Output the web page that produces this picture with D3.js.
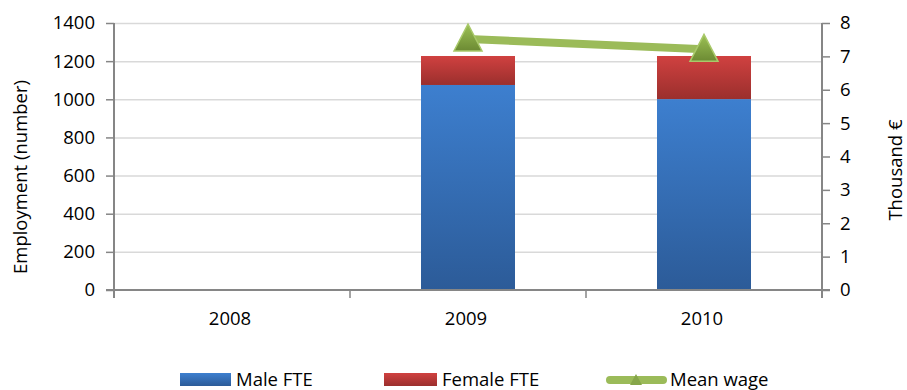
<!DOCTYPE html>
<html><head><meta charset="utf-8">
<script src="https://cdn.jsdelivr.net/npm/d3@7/dist/d3.min.js"></script>
<style>body{margin:0;background:#fff}svg{font-family:"Open Sans","Liberation Sans",Arial,sans-serif}</style>
</head><body><svg id="c" width="907" height="390"></svg>
<script>
const years = ["2008","2009","2010"];
const maleFTE = [null, 1075, 1001];
const femaleFTE = [null, 152, 226];
const meanWage = [null, 7.52, 7.21];
const leftTicks = [0,200,400,600,800,1000,1200,1400];
const rightTicks = [0,1,2,3,4,5,6,7,8];
const seriesNames = ["Male FTE","Female FTE","Mean wage"];

const svg = d3.select("#c");
const L = 114, R = 822, T = 23, B = 290;
const x = d3.scaleBand().domain(years).range([L, R]).paddingInner(0).paddingOuter(0);
const yL = d3.scaleLinear().domain([0,1400]).range([B, T]);
const yR = d3.scaleLinear().domain([0,8]).range([B, T]);
const fs = 18.5;

const defs = svg.append("defs");
function grad(id, c1, c2){
  const g = defs.append("linearGradient").attr("id", id).attr("x1",0).attr("y1",0).attr("x2",0).attr("y2",1);
  g.append("stop").attr("offset","0%").attr("stop-color",c1);
  g.append("stop").attr("offset","100%").attr("stop-color",c2);
}
grad("gBlue","#3d7fcf","#2c5b98");
grad("gRed","#d04140","#9b2f2d");
grad("gGreen","#9cc155","#6c8a33");

// gridlines
svg.append("g").selectAll("line").data(leftTicks.slice(1)).join("line")
  .attr("x1", L).attr("x2", R).attr("y1", d=>yL(d)+0.5).attr("y2", d=>yL(d)+0.5)
  .attr("stroke","#d9d9d9").attr("stroke-width",1.5);

// bars
const bw = 94;
const bars = svg.append("g");
years.forEach((yr,i)=>{
  if(maleFTE[i]==null) return;
  const cx = x(yr) + x.bandwidth()/2;
  bars.append("rect").attr("x", cx-bw/2).attr("width", bw)
    .attr("y", yL(maleFTE[i])).attr("height", yL(0)-yL(maleFTE[i])).attr("fill","url(#gBlue)");
  bars.append("rect").attr("x", cx-bw/2).attr("width", bw)
    .attr("y", yL(maleFTE[i]+femaleFTE[i])).attr("height", yL(maleFTE[i])-yL(maleFTE[i]+femaleFTE[i])).attr("fill","url(#gRed)");
});

// axes
const axL = svg.append("g").attr("transform",`translate(${L},0)`)
  .call(d3.axisLeft(yL).tickValues(leftTicks).tickFormat(d3.format("d")).tickSize(8).tickPadding(11));
const axR = svg.append("g").attr("transform",`translate(${R},0)`)
  .call(d3.axisRight(yR).tickValues(rightTicks).tickFormat(d3.format("d")).tickSize(8).tickPadding(10));
[axL, axR].forEach(a=>{
  a.select(".domain").attr("stroke","#868686").attr("stroke-width",2);
  a.selectAll(".tick line").attr("stroke","#868686").attr("stroke-width",1.5);
  a.selectAll("text").attr("font-size",fs).attr("fill","#000").attr("font-family","Open Sans, Liberation Sans, Arial");
});
axL.select(".domain").attr("d", `M-0,${T}V${B+8}`);
axR.select(".domain").attr("d", `M0,${T}V${B+8}`);

// x axis
const axX = svg.append("g").attr("transform",`translate(0,${B})`);
axX.append("line").attr("x1",L-8).attr("x2",R+8).attr("y1",0).attr("y2",0).attr("stroke","#868686").attr("stroke-width",2);
const bounds = years.map(y=>x(y)).concat([R]);
axX.selectAll("line.t").data(bounds).join("line").attr("class","t")
  .attr("x1",d=>d).attr("x2",d=>d).attr("y1",0).attr("y2",8).attr("stroke","#868686").attr("stroke-width",1.5);
axX.selectAll("text").data(years).join("text")
  .attr("x", d=>x(d)+x.bandwidth()/2 - 2).attr("y", 35).attr("text-anchor","middle")
  .attr("font-size",fs).text(d=>d);

// line
const pts = years.map((y,i)=>({x:x(y)+x.bandwidth()/2, v:meanWage[i]})).filter(d=>d.v!=null);
svg.append("path").datum(pts)
  .attr("d", d3.line().x(d=>d.x).y(d=>yR(d.v)))
  .attr("fill","none").attr("stroke","#9bbb59").attr("stroke-width",8).attr("stroke-linecap","round");
const triPath = "M0,-15L14,12L-14,12Z";
svg.append("g").selectAll("path").data(pts).join("path")
  .attr("transform", d=>`translate(${d.x},${yR(d.v)})`)
  .attr("d", triPath).attr("fill","url(#gGreen)").attr("stroke","#a9c96a").attr("stroke-width",1.5);

// axis titles
svg.append("text").attr("transform","translate(27,177) rotate(-90)").attr("text-anchor","middle")
  .attr("font-size",fs).text("Employment (number)");
svg.append("text").attr("transform","translate(902,170) rotate(-90)").attr("text-anchor","middle")
  .attr("font-size",fs).text("Thousand €");

// legend
const lg = svg.append("g");
lg.append("rect").attr("x",180).attr("y",373).attr("width",51).attr("height",13).attr("fill","url(#gBlue)");
lg.append("text").attr("x",236).attr("y",386).attr("font-size",fs).text(seriesNames[0]);
lg.append("rect").attr("x",384).attr("y",373).attr("width",53).attr("height",13).attr("fill","url(#gRed)");
lg.append("text").attr("x",442).attr("y",386).attr("font-size",fs).text(seriesNames[1]);
lg.append("line").attr("x1",610).attr("x2",663).attr("y1",380).attr("y2",380).attr("stroke","#9bbb59").attr("stroke-width",8).attr("stroke-linecap","round");
lg.append("path").attr("transform","translate(636,380)").attr("d","M0,-6L6,5L-6,5Z").attr("fill","#86a64a");
lg.append("text").attr("x",670).attr("y",386).attr("font-size",fs).text(seriesNames[2]);
</script></body></html>
